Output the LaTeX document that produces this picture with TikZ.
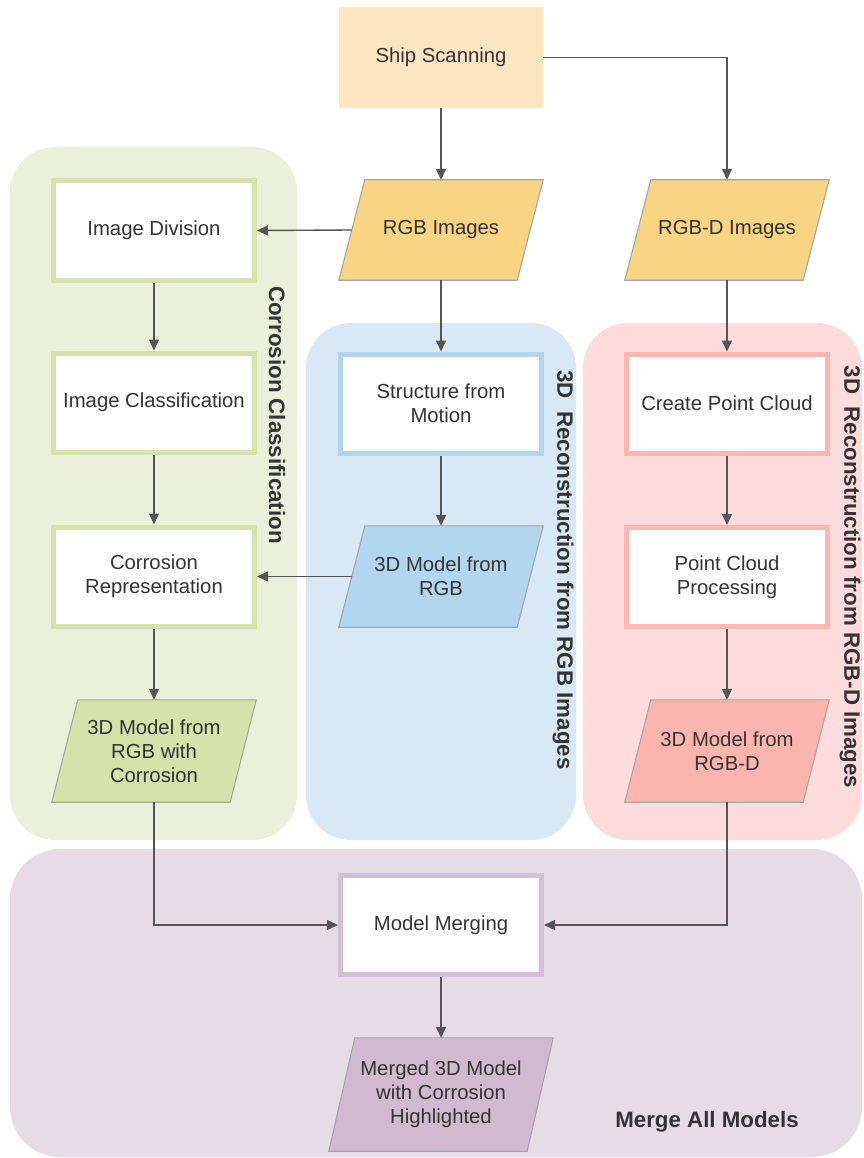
\documentclass[tikz,border=0pt]{standalone}
\usepackage{fontspec}
\setmainfont{Liberation Sans}
\usetikzlibrary{arrows.meta,calc,backgrounds}

% palette
\definecolor{txt}{HTML}{333333}
\definecolor{wire}{HTML}{555555}
\definecolor{shipfill}{HTML}{FFE6C3}
\definecolor{imgfill}{HTML}{F9D482}
\definecolor{paraedge}{HTML}{A6A6A6}
\definecolor{grnbg}{HTML}{EAF0D9}
\definecolor{grnedge}{HTML}{D6E3AE}
\definecolor{grnfill}{HTML}{D6E2AA}
\definecolor{blubg}{HTML}{D8E9F5}
\definecolor{bluedge}{HTML}{B3D4EE}
\definecolor{blufill}{HTML}{B2D6EE}
\definecolor{redbg}{HTML}{FDDCDB}
\definecolor{rededge}{HTML}{FBB7B0}
\definecolor{redfill}{HTML}{FBB5AE}
\definecolor{purbg}{HTML}{E6DCE6}
\definecolor{puredge}{HTML}{D4C0D6}
\definecolor{purfill}{HTML}{D1B9D2}

\tikzset{
  lbl/.style={text=txt, font=\fontsize{20.3}{24}\selectfont, align=center},
  stepbox/.style={lbl, draw=#1, line width=5pt, fill=white,
    minimum width=201pt, minimum height=99pt, inner sep=0pt},
  paranode/.style={lbl, minimum width=178pt, minimum height=#1, inner sep=0pt},
  parashape/.style={draw=paraedge, line width=1.1pt, fill=#1},
  arr/.style={draw=wire, line width=1.4pt, -{Triangle[length=11pt,width=10pt]}},
  lane/.style={fill=#1, draw=none, rounded corners=45pt},
  lanetitle/.style={text=txt, font=\fontsize{22.3}{26}\bfseries\selectfont}
}

% parallelogram behind a named node: top edge shifted right, bottom edge left
\newcommand{\paradraw}[2]{%
  \begin{scope}[on background layer]
    \path[parashape=#2] ($(#1.north west)+(13,0)$) -- ($(#1.north east)+(13,0)$)
      -- ($(#1.south east)+(-13,0)$) -- ($(#1.south west)+(-13,0)$) -- cycle;
  \end{scope}}

\begin{document}
\begin{tikzpicture}[x=1pt,y=-1pt]
\useasboundingbox (0,0) rectangle (863,1158);

% swim lanes
\begin{scope}[on background layer]
  \path[lane=grnbg] (10,147) rectangle (297,840);
  \path[lane=blubg] (306,323) rectangle (576,840);
  \path[lane=redbg] (583,323) rectangle (862,840);
  \path[lane=purbg, rounded corners=50pt] (10,849) rectangle (862,1157);
\end{scope}

% lane titles
\node[lanetitle, rotate=-90] (tcc) at (277,415) {Corrosion Classification};
\node[lanetitle, rotate=-90] (trgb) at (563,570) {3D\ \ Reconstruction from RGB Images};
\node[lanetitle, rotate=-90] (trgbd) at (850,577) {3D\ \ Reconstruction from RGB-D Images};
\node[lanetitle] (tmerge) at (707,1122) {Merge All Models};

% source
\node[lbl, fill=shipfill, minimum width=204pt, minimum height=101pt] (ship) at (441,57.5) {Ship Scanning};

% image inputs
\node[paranode=100pt] (rgb) at (441,230) {RGB Images};
\paradraw{rgb}{imgfill}
\node[paranode=100pt] (rgbd) at (727,230) {RGB-D Images};
\paradraw{rgbd}{imgfill}

% corrosion classification
\node[stepbox=grnedge] (div) at (154,230.5) {Image Division};
\node[stepbox=grnedge] (cls) at (154,402.5) {Image Classification};
\node[stepbox=grnedge] (crep) at (154,576.5) {Corrosion\\Representation};
\node[paranode=102pt] (mgc) at (154,751) {3D Model from\\RGB with\\Corrosion};
\paradraw{mgc}{grnfill}

% reconstruction from RGB
\node[stepbox=bluedge] (sfm) at (441,403.5) {Structure from\\Motion};
\node[paranode=101pt] (mrgb) at (441,576.5) {3D Model from\\RGB};
\paradraw{mrgb}{blufill}

% reconstruction from RGB-D
\node[stepbox=rededge] (cpc) at (727,403.5) {Create Point Cloud};
\node[stepbox=rededge] (pcp) at (727,577) {Point Cloud\\Processing};
\node[paranode=102pt] (mrgbd) at (727,751) {3D Model from\\RGB-D};
\paradraw{mrgbd}{redfill}

% merging
\node[stepbox=puredge] (merge) at (441,925) {Model Merging};
\node[paranode=113pt, minimum width=198pt] (final) at (441,1094.5) {Merged 3D Model\\with Corrosion\\Highlighted};
\paradraw{final}{purfill}

% connectors
\draw[arr] (ship.south) -- (rgb.north);
\draw[arr] (ship.east) -| (rgbd.north);
\draw[arr] (rgb.west) -- (div.east);
\draw[arr] (rgb.south) -- (sfm.north);
\draw[arr] (rgbd.south) -- (cpc.north);
\draw[arr] (div.south) -- (cls.north);
\draw[arr] (cls.south) -- (crep.north);
\draw[arr] (crep.south) -- (mgc.north);
\draw[arr] (sfm.south) -- (mrgb.north);
\draw[arr] (mrgb.west) -- (crep.east);
\draw[arr] (cpc.south) -- (pcp.north);
\draw[arr] (pcp.south) -- (mrgbd.north);
\draw[arr] (mgc.south) |- (merge.west);
\draw[arr] (mrgbd.south) |- (merge.east);
\draw[arr] (merge.south) -- (final.north);
\end{tikzpicture}
\end{document}
